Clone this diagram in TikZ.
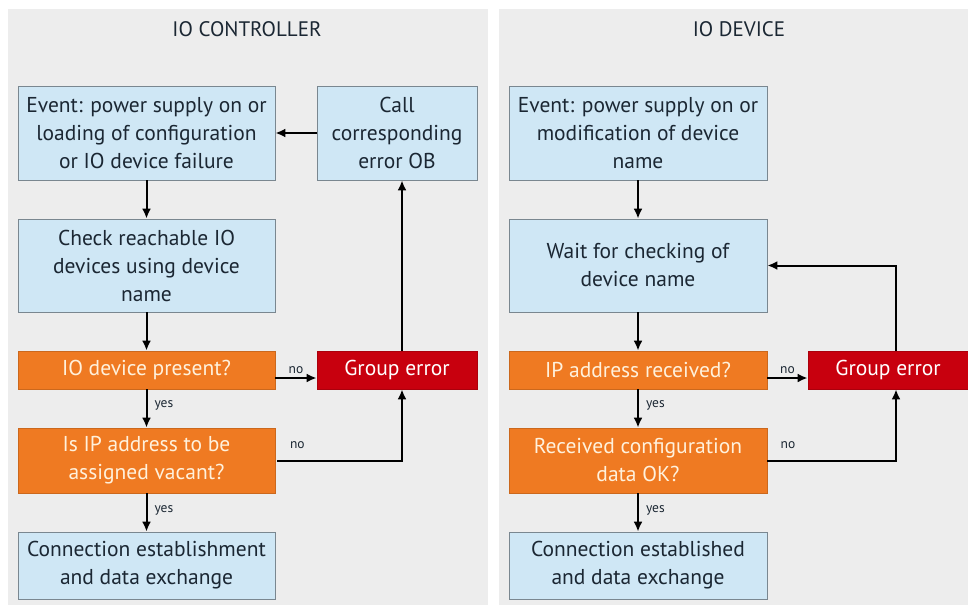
\documentclass[tikz,border=0pt]{standalone}
\usepackage{fontspec}
\setmainfont{PT Sans}
\usetikzlibrary{arrows.meta,calc}
\definecolor{panelgray}{HTML}{EDEDED}
\definecolor{boxblue}{HTML}{CFE7F5}
\definecolor{boxedge}{HTML}{7A8790}
\definecolor{boxorange}{HTML}{EF7A22}
\definecolor{boxred}{HTML}{C8000E}
\definecolor{textdark}{HTML}{1B2733}
\definecolor{textcream}{HTML}{FFF1DC}
\newcommand{\boxfont}{\fontsize{21.5}{28}\selectfont}
\newcommand{\lowtxt}[1]{\raisebox{-2.5pt}{#1}}
\tikzset{
  basebox/.style={align=center, inner sep=0pt, font=\boxfont, line width=0.8pt},
  bluebox/.style={basebox, draw=boxedge, fill=boxblue, text=textdark},
  decbox/.style={basebox, draw=boxorange!85!black, fill=boxorange, text=textcream},
  errbox/.style={basebox, draw=boxred!85!black, fill=boxred, text=white},
  flow/.style={line width=2pt, -{Latex[length=10pt,width=9pt]}},
  lbl/.style={font=\fontsize{13.5}{15}\selectfont, text=textdark, inner sep=1pt},
  ttl/.style={font=\fontsize{21}{25}\selectfont, text=textdark}
}
\begin{document}
\begin{tikzpicture}[x=1pt,y=1pt]
\useasboundingbox (0,0) rectangle (968,-605);
\fill[white] (0,0) rectangle (968,-605);
\fill[panelgray] (8,-9) rectangle (488,-605);
\fill[panelgray] (499,-9) rectangle (968,-605);

\node[ttl] (t1) at (247,-29) {IO CONTROLLER};
\node[ttl] (t2) at (739,-29) {IO DEVICE};

% left column
\node[bluebox, minimum width=257, minimum height=94] (ev1) at (146.5,-133)
  {Event: power supply on or\\loading of configuration\\or IO device failure};
\node[bluebox, minimum width=160, minimum height=94] (call1) at (397,-133)
  {Call\\corresponding\\error OB};
\node[bluebox, minimum width=257, minimum height=93] (chk1) at (146.5,-265.5)
  {Check reachable IO\\devices using device\\name};
\node[decbox, minimum width=257, minimum height=38] (pres1) at (146.5,-370)
  {\lowtxt{IO device present?}};
\node[errbox, minimum width=160, minimum height=38] (ge1) at (397,-370)
  {\lowtxt{Group error}};
\node[decbox, minimum width=257, minimum height=65] (ip1) at (146.5,-460.5)
  {Is IP address to be\\assigned vacant?};
\node[bluebox, minimum width=257, minimum height=67] (con1) at (146.5,-565.5)
  {Connection establishment\\and data exchange};

% right column
\node[bluebox, minimum width=258, minimum height=94] (ev2) at (638,-133)
  {Event: power supply on or\\modification of device\\name};
\node[bluebox, minimum width=258, minimum height=93] (wait2) at (638,-265.5)
  {Wait for checking of\\device name};
\node[decbox, minimum width=258, minimum height=38] (rcv2) at (638,-370)
  {\lowtxt{IP address received?}};
\node[errbox, minimum width=160, minimum height=38] (ge2) at (888,-370)
  {\lowtxt{Group error}};
\node[decbox, minimum width=258, minimum height=65] (cfg2) at (638,-460.5)
  {Received configuration\\data OK?};
\node[bluebox, minimum width=258, minimum height=67] (con2) at (638,-565.5)
  {Connection established\\and data exchange};

% left connectors
\draw[flow] (ev1) -- (chk1);
\draw[flow] (chk1) -- (pres1);
\draw[flow] (pres1) -- node[lbl, right, pos=0.42, xshift=6pt] {yes} (ip1);
\draw[flow] (ip1) -- node[lbl, right, pos=0.44, xshift=6pt] {yes} (con1);
\draw[flow] ([yshift=-8pt]pres1.east) -- node[lbl, above=2pt] {no} ([yshift=-8pt]ge1.west);
\draw[flow] ([xshift=2pt]ip1.east) -| node[lbl, pos=0.08, above=10pt] {no} ([xshift=5pt]ge1.south);
\draw[flow] ([xshift=5pt]ge1.north) -- ([xshift=5pt]call1.south);
\draw[flow] (call1.west) -- (ev1.east);

% right connectors
\draw[flow] (ev2) -- (wait2);
\draw[flow] (wait2) -- (rcv2);
\draw[flow] (rcv2) -- node[lbl, right, pos=0.42, xshift=6pt] {yes} (cfg2);
\draw[flow] (cfg2) -- node[lbl, right, pos=0.44, xshift=6pt] {yes} (con2);
\draw[flow] ([yshift=-8pt]rcv2.east) -- node[lbl, above=2pt] {no} ([yshift=-8pt]ge2.west);
\draw[flow] (cfg2.east) -| node[lbl, pos=0.08, above=10pt] {no} ([xshift=8pt]ge2.south);
\draw[flow] ([xshift=8pt]ge2.north) |- (wait2.east);
\end{tikzpicture}
\end{document}
